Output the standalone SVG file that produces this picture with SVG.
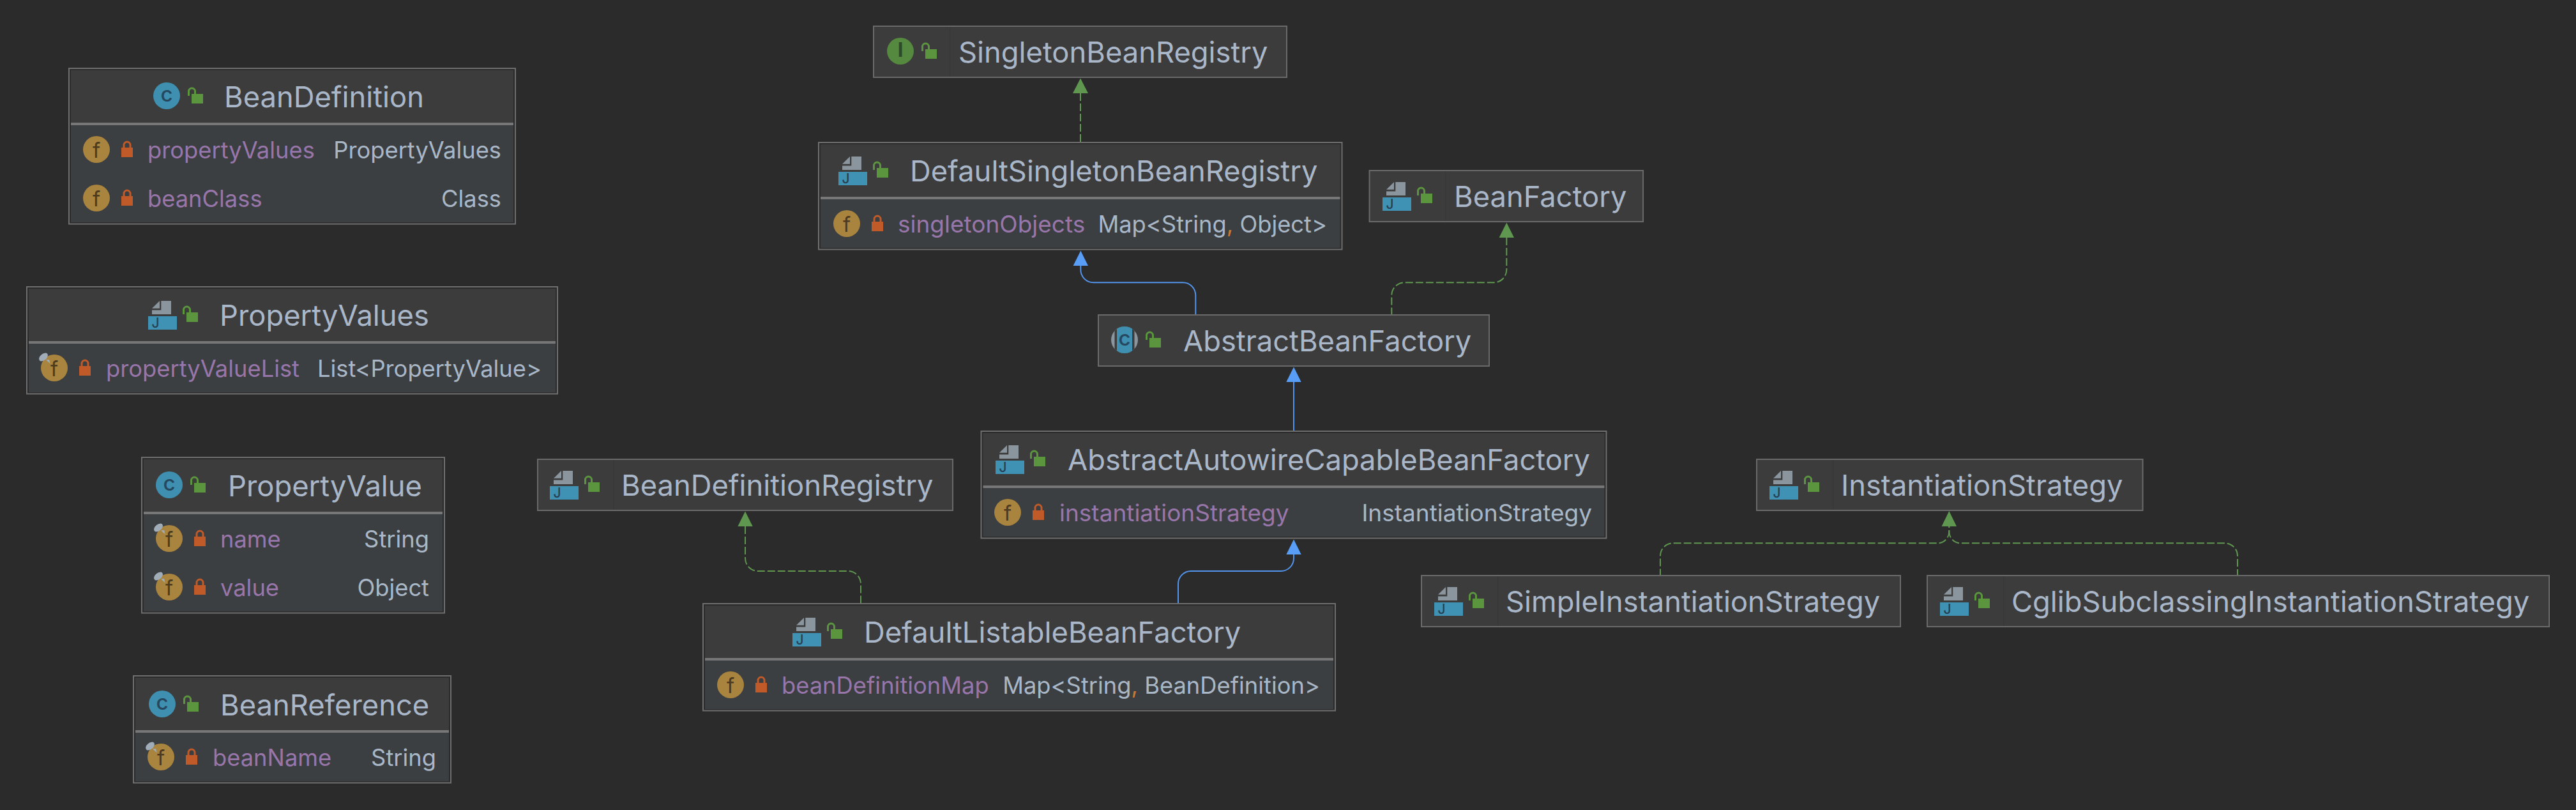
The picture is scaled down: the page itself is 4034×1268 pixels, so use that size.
<svg xmlns="http://www.w3.org/2000/svg" xmlns:xlink="http://www.w3.org/1999/xlink" width="4034" height="1268" viewBox="0 0 4034 1268">
<style>
text{font-family:"Inter","Noto Sans",sans-serif}
.b{fill:#2b2b2b;stroke:#6e6e6e;stroke-width:2}
.s{fill:#3c3c3c;stroke:#6a6a6a;stroke-width:2}
.h{fill:#3c3c3c}
.d{fill:#3b3f42}
.l{fill:#777}
.v{fill:#383838}
.t{font-size:45.300px;fill:#a9b7c9}
.f{font-size:36.300px;fill:#9876aa}
.y{font-size:36.300px;fill:#a9b7c6}
.w{font-size:37px}
.c{fill:#cc7832}
.imp{fill:none;stroke:#5f9650;stroke-width:2;stroke-dasharray:12 4}
.ext{fill:none;stroke:#5394ec;stroke-width:2}
.ag{fill:#5f9650}
.ab{fill:#589df6}
</style>
<defs>
<g id="pub"><rect width="18" height="15" fill="#5b963f"/><path d="M-4.500 3V-4a5 5 0 0 1 10 0V0" fill="none" stroke="#5b963f" stroke-width="3"/></g>
<g id="pri"><rect width="18" height="15" fill="#c15a29"/><path d="M4 0V-4a5 5 0 0 1 10 0V0" fill="none" stroke="#c15a29" stroke-width="3"/></g>
<g id="fld"><circle r="21" fill="#a9843f"/><text y="12.500" text-anchor="middle" font-size="33" fill="#4d3b20">f</text></g>
<g id="pin"><ellipse cx="-17" cy="-17" rx="8" ry="5" transform="rotate(-40 -17 -17)" fill="#a0adb8"/><path d="M-13-12.700L-6.500-6.700L-8-13Z" fill="#a0adb8"/></g>
<g id="jc"><path d="M20.300 0H36V21H6V14.500H20.300Z" fill="#8a959e"/><path d="M6 11.700L18 0V11.700Z" fill="#8a959e"/><rect y="24" width="45" height="21" fill="#3f92b3"/><text x="5.500" y="42" font-size="21" font-weight="500" fill="#27404f">J</text></g>
<g id="cc"><circle r="21" fill="#3e8fb0"/><text y="9" text-anchor="middle" font-size="33" font-weight="500" fill="#26485e">c</text></g>
<clipPath id="ac"><circle r="21"/></clipPath>
<g id="ca"><circle r="21" fill="#8a959e"/><g clip-path="url(#ac)"><rect x="-15.500" y="-21" width="31" height="42" fill="#3c3c3c"/><rect x="-12" y="-21" width="24" height="42" fill="#3e8fb0"/></g><text y="9" text-anchor="middle" font-size="33" font-weight="500" fill="#26485e">c</text></g>
<g id="ic"><circle r="21" fill="#55893f"/><text y="9" text-anchor="middle" font-size="31" font-family="Liberation Mono" font-weight="700" fill="#2f4a28">I</text></g>
</defs>
<rect width="4034" height="1268" fill="#2b2b2b"/>
<g id="connectors">
<path class="imp" d="M1692 146V222"/><path class="ag" d="M1692 122.500L1704 146H1680Z"/>
<path class="ext" d="M1692.300 416V422a20 20 0 0 0 20 20.300H1852a20 20 0 0 1 20.300 20V492"/><path class="ab" d="M1692.300 392.500L1704 416H1680.600Z"/>
<path class="imp" d="M2359.300 372V422.300a20 20 0 0 1-20 20H2199.300a20 20 0 0 0-20 20V492"/><path class="ag" d="M2359.300 348.500L2371 372H2347.600Z"/>
<path class="ext" d="M2026 598V674"/><path class="ab" d="M2026 574.500L2037.700 598H2014.300Z"/>
<path class="imp" d="M1167 824V874a20 20 0 0 0 20 20H1328a20 20 0 0 1 20 20V944"/><path class="ag" d="M1167 800.500L1178.700 824H1155.300Z"/>
<path class="ext" d="M2026 868V874a20 20 0 0 1-20 20H1865a20 20 0 0 0-20 20V944"/><path class="ab" d="M2026 844.500L2037.700 868H2014.300Z"/>
<path class="imp" stroke-dashoffset="10" d="M3052.300 824V832a18 18 0 0 1-18 18.300H2620a20 20 0 0 0-20 20V900"/>
<path class="imp" stroke-dashoffset="10" d="M3052.300 824V832a18 18 0 0 0 18 18.300H3484a20 20 0 0 1 20 20V900"/>
<path class="ag" d="M3052.300 800L3064 824H3040.600Z"/>
</g>
<g id="BeanDefinition">
<rect class="b" x="108" y="107" width="699" height="243.600"/><rect class="h" x="111" y="110" width="693" height="82"/><rect class="l" x="111" y="192" width="693" height="4"/><rect class="d" x="111" y="196" width="693" height="152"/>
<use href="#cc" x="261" y="150"/><use href="#pub" x="300" y="147"/><text class="t" x="351" y="168">BeanDefinition</text>
<use href="#fld" x="151" y="234"/><use href="#pri" x="190" y="231"/><text class="f" x="231" y="248">propertyValues</text><text class="y" x="785" y="248" text-anchor="end">PropertyValues</text>
<use href="#fld" x="151" y="310"/><use href="#pri" x="190" y="307"/><text class="f" x="231" y="324">beanClass</text><text class="y" x="785" y="324" text-anchor="end">Class</text>
</g>
<g id="PropertyValues">
<rect class="b" x="42" y="449" width="831" height="167.500"/><rect class="h" x="45" y="452" width="825" height="82"/><rect class="l" x="45" y="534" width="825" height="4"/><rect class="d" x="45" y="538" width="825" height="76"/>
<use href="#jc" x="232" y="471"/><use href="#pub" x="292" y="489"/><text class="t" x="344" y="510">PropertyValues</text>
<use href="#fld" x="85" y="576"/><use href="#pin" x="85" y="576"/><use href="#pri" x="124" y="573"/><text class="f" x="166" y="590">propertyValueList</text><text class="y" x="848" y="590" text-anchor="end">List&lt;PropertyValue&gt;</text>
</g>
<g id="PropertyValue">
<rect class="b" x="222" y="716" width="474" height="243.600"/><rect class="h" x="225" y="719" width="468" height="82"/><rect class="l" x="225" y="801" width="468" height="4"/><rect class="d" x="225" y="805" width="468" height="152"/>
<use href="#cc" x="265" y="759"/><use href="#pub" x="304" y="756"/><text class="t" x="357" y="777">PropertyValue</text>
<use href="#fld" x="265" y="843"/><use href="#pin" x="265" y="843"/><use href="#pri" x="304" y="840"/><text class="f" x="345" y="857">name</text><text class="y" x="672" y="857" text-anchor="end">String</text>
<use href="#fld" x="265" y="919"/><use href="#pin" x="265" y="919"/><use href="#pri" x="304" y="916"/><text class="f" x="345" y="933">value</text><text class="y" x="672" y="933" text-anchor="end">Object</text>
</g>
<g id="BeanReference">
<rect class="b" x="209" y="1058" width="497" height="167.500"/><rect class="h" x="212" y="1061" width="491" height="82"/><rect class="l" x="212" y="1143" width="491" height="4"/><rect class="d" x="212" y="1147" width="491" height="76"/>
<use href="#cc" x="254" y="1102"/><use href="#pub" x="293" y="1099"/><text class="t" x="345" y="1120">BeanReference</text>
<use href="#fld" x="252" y="1185"/><use href="#pin" x="252" y="1185"/><use href="#pri" x="291" y="1182"/><text class="f" x="333" y="1199">beanName</text><text class="y" x="683" y="1199" text-anchor="end">String</text>
</g>
<g id="SingletonBeanRegistry">
<rect class="s" x="1368" y="41" width="647" height="80"/><rect class="v" x="1487" y="42" width="1.500" height="78"/>
<use href="#ic" x="1410" y="80"/><use href="#pub" x="1449" y="77"/><text class="t" x="1501" y="98">SingletonBeanRegistry</text>
</g>
<g id="DefaultSingletonBeanRegistry">
<rect class="b" x="1282" y="223" width="819.500" height="167.500"/><rect class="h" x="1285" y="226" width="813.500" height="82"/><rect class="l" x="1285" y="308" width="813.500" height="4"/><rect class="d" x="1285" y="312" width="813.500" height="76"/>
<use href="#jc" x="1313" y="245"/><use href="#pub" x="1373" y="263"/><text class="t" x="1425" y="284">DefaultSingletonBeanRegistry</text>
<use href="#fld" x="1326" y="350"/><use href="#pri" x="1365" y="347"/><text class="f w" x="1406" y="364">singletonObjects</text><text class="y" x="2078" y="364" text-anchor="end">Map&lt;String<tspan class="c">,</tspan> Object&gt;</text>
</g>
<g id="BeanFactory">
<rect class="s" x="2144.600" y="267" width="428.500" height="80"/><rect class="v" x="2263" y="268" width="1.500" height="78"/>
<use href="#jc" x="2165" y="285"/><use href="#pub" x="2225" y="303"/><text class="t" x="2277" y="324">BeanFactory</text>
</g>
<g id="AbstractBeanFactory">
<rect class="s" x="1720" y="493" width="612" height="80"/>
<use href="#ca" x="1761" y="532"/><use href="#pub" x="1800" y="529"/><text class="t" x="1853" y="550">AbstractBeanFactory</text>
</g>
<g id="AbstractAutowireCapableBeanFactory">
<rect class="b" x="1536.500" y="675" width="979" height="167.500"/><rect class="h" x="1539.500" y="678" width="973" height="82"/><rect class="l" x="1539.500" y="760" width="973" height="4"/><rect class="d" x="1539.500" y="764" width="973" height="76"/>
<use href="#jc" x="1559" y="697"/><use href="#pub" x="1619" y="715"/><text class="t" x="1672" y="736">AbstractAutowireCapableBeanFactory</text>
<use href="#fld" x="1578" y="802"/><use href="#pri" x="1617" y="799"/><text class="f w" x="1659" y="816">instantiationStrategy</text><text class="y w" x="2493" y="816" text-anchor="end">InstantiationStrategy</text>
</g>
<g id="BeanDefinitionRegistry">
<rect class="s" x="842" y="719" width="650" height="80"/><rect class="v" x="960" y="720" width="1.500" height="78"/>
<use href="#jc" x="861" y="737"/><use href="#pub" x="921" y="755"/><text class="t" x="973" y="776">BeanDefinitionRegistry</text>
</g>
<g id="DefaultListableBeanFactory">
<rect class="b" x="1101" y="945" width="990" height="167.500"/><rect class="h" x="1104" y="948" width="984" height="82"/><rect class="l" x="1104" y="1030" width="984" height="4"/><rect class="d" x="1104" y="1034" width="984" height="76"/>
<use href="#jc" x="1241" y="967"/><use href="#pub" x="1301" y="985"/><text class="t" x="1353" y="1006">DefaultListableBeanFactory</text>
<use href="#fld" x="1144" y="1072"/><use href="#pri" x="1183" y="1069"/><text class="f" x="1224" y="1086">beanDefinitionMap</text><text class="y" x="2067" y="1086" text-anchor="end">Map&lt;String<tspan class="c">,</tspan> BeanDefinition&gt;</text>
</g>
<g id="InstantiationStrategy">
<rect class="s" x="2751" y="719" width="604.500" height="80"/><rect class="v" x="2870" y="720" width="1.500" height="78"/>
<use href="#jc" x="2771" y="737"/><use href="#pub" x="2831" y="755"/><text class="t" x="2883" y="776">InstantiationStrategy</text>
</g>
<g id="SimpleInstantiationStrategy">
<rect class="s" x="2226" y="901" width="750" height="80"/><rect class="v" x="2345" y="902" width="1.500" height="78"/>
<use href="#jc" x="2246" y="919"/><use href="#pub" x="2306" y="937"/><text class="t" x="2358" y="958">SimpleInstantiationStrategy</text>
</g>
<g id="CglibSubclassingInstantiationStrategy">
<rect class="s" x="3018" y="901" width="974" height="80"/><rect class="v" x="3137" y="902" width="1.500" height="78"/>
<use href="#jc" x="3038" y="919"/><use href="#pub" x="3098" y="937"/><text class="t" x="3150" y="958">CglibSubclassingInstantiationStrategy</text>
</g>
</svg>
